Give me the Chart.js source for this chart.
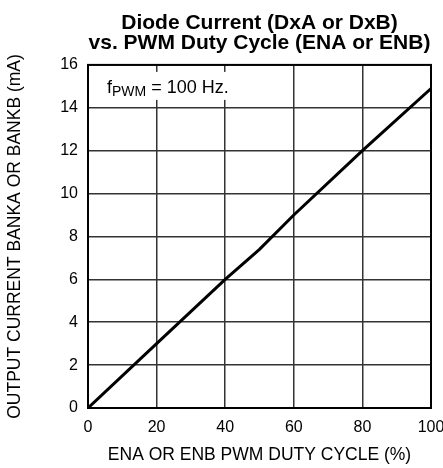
<!DOCTYPE html>
<html>
<head>
<meta charset="utf-8">
<script src="https://cdn.jsdelivr.net/npm/chart.js@4.4.1/dist/chart.umd.min.js"></script>
<style>
  html, body { margin: 0; padding: 0; background: #fff; }
  #wrap { width: 443px; height: 468px; }
</style>
</head>
<body>
<div id="wrap"><canvas id="diodeChart"></canvas></div>
<script>
// duty cycle (%) et courant (mA)
const dutyCycle = [0, 20, 40, 50, 60, 80, 100];
const currentMA = [0, 3.0, 6.0, 7.4, 9.0, 12.0, 14.9];
const xTicks = [0, 20, 40, 60, 80, 100];
const yTicks = [0, 2, 4, 6, 8, 10, 12, 14, 16];
const titleLines = ['Diode Current (DxA or DxB)', 'vs. PWM Duty Cycle (ENA or ENB)'];

const FONT = '"Liberation Sans", Arial, Helvetica, sans-serif';

// Boite de texte "fPWM = 100 Hz." + cadre du graphique
const notePlugin = {
    id: 'note',
    beforeDatasetsDraw(chart) {
        const ctx = chart.ctx;
        const a = chart.chartArea;
        ctx.save();
        ctx.fillStyle = '#fff';
        ctx.fillRect(a.left + 8, a.top + 7, 150, 28);
        ctx.fillStyle = '#000';
        ctx.textBaseline = 'alphabetic';
        let x = a.left + 19;
        const y = a.top + 28;
        ctx.font = '18px ' + FONT;
        ctx.fillText('f', x, y);
        x += ctx.measureText('f').width;
        ctx.font = '14px ' + FONT;
        ctx.fillText('PWM', x, y + 3);
        x += ctx.measureText('PWM').width;
        ctx.font = '18px ' + FONT;
        ctx.fillText(' = 100 Hz.', x, y);
        ctx.lineWidth = 2;
        ctx.strokeStyle = '#000';
        ctx.strokeRect(a.left, a.top, a.right - a.left, a.bottom - a.top);
        ctx.restore();
    }
};

const ctx = document.getElementById('diodeChart').getContext('2d');
const chart = new Chart(ctx, {
    type: 'line',
    data: {
        datasets: [{
            data: dutyCycle.map((d, i) => ({ x: d, y: currentMA[i] })),
            borderColor: '#000',
            borderWidth: 3,
            pointRadius: 0,
            tension: 0,
            fill: false
        }]
    },
    options: {
        responsive: true,
        maintainAspectRatio: false,
        animation: false,
        layout: { padding: { left: 0, right: 12, top: 0, bottom: 0 } },
        plugins: {
            legend: { display: false },
            tooltip: { enabled: false },
            title: {
                display: true,
                fullSize: false,
                text: titleLines,
                color: '#000',
                font: { family: FONT, size: 21, weight: 'bold', lineHeight: 0.95 },
                padding: { top: 13, bottom: 12 }
            }
        },
        scales: {
            x: {
                type: 'linear',
                min: 0,
                max: 100,
                afterBuildTicks: s => { s.ticks = xTicks.map(v => ({ value: v })); },
                afterFit: s => { s.height = 60; s.paddingLeft = 0; s.paddingRight = 0; },
                grid: { color: '#333', lineWidth: 1.5, drawTicks: false },
                border: { color: '#000', width: 2 },
                ticks: { color: '#000', padding: 10, maxRotation: 0, font: { family: FONT, size: 16 } },
                title: {
                    display: true,
                    text: 'ENA OR ENB PWM DUTY CYCLE (%)',
                    color: '#000',
                    font: { family: FONT, size: 17.5 },
                    padding: { top: 0, bottom: 2 }
                }
            },
            y: {
                min: 0,
                max: 16,
                afterBuildTicks: s => { s.ticks = yTicks.map(v => ({ value: v })); },
                afterFit: s => { s.width = 88; s.paddingTop = 0; s.paddingBottom = 0; },
                grid: { color: '#333', lineWidth: 1.5, drawTicks: false },
                border: { color: '#000', width: 2 },
                ticks: { color: '#000', padding: 10, font: { family: FONT, size: 16 } },
                title: {
                    display: true,
                    text: 'OUTPUT CURRENT BANKA OR BANKB (mA)',
                    color: '#000',
                    font: { family: FONT, size: 17.5 },
                    padding: { top: 5, bottom: 0 }
                }
            }
        }
    },
    plugins: [notePlugin]
});
</script>
</body>
</html>
